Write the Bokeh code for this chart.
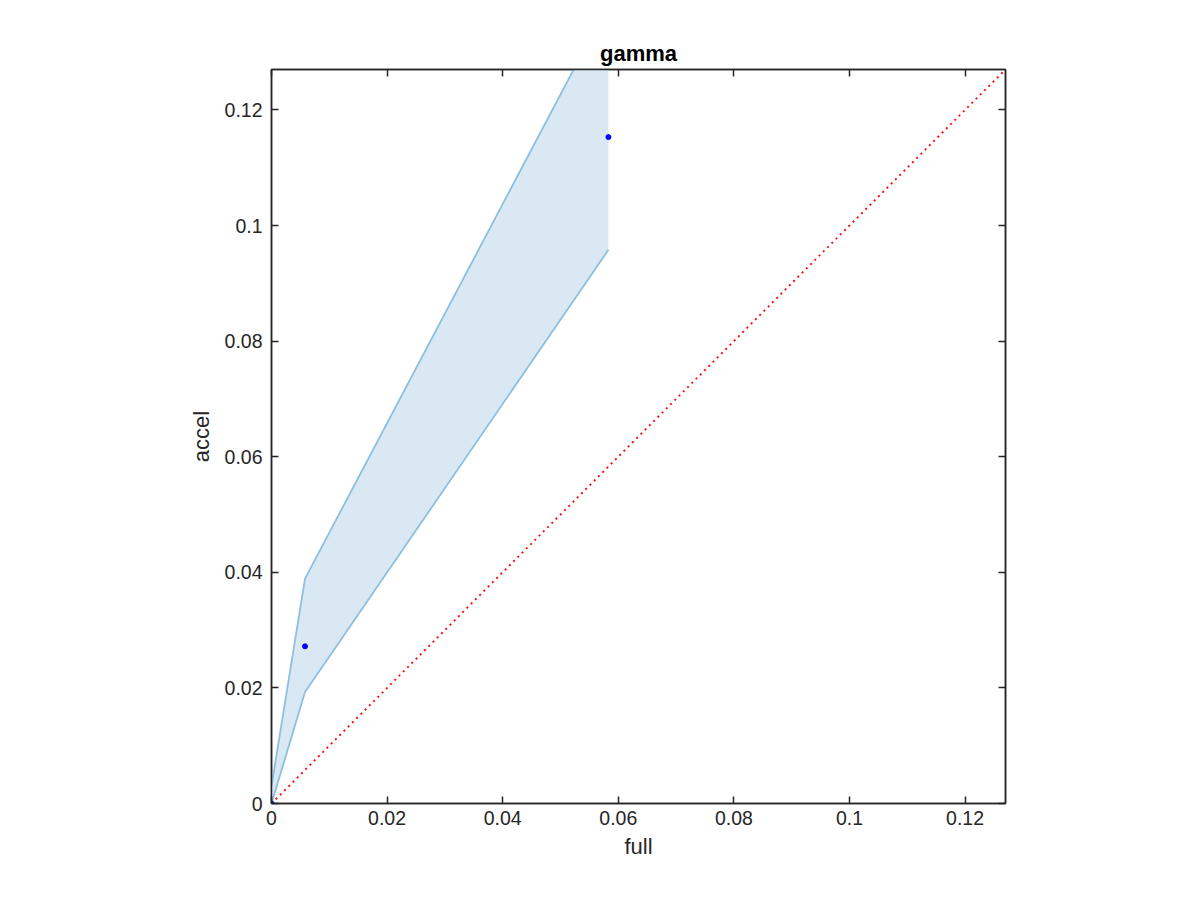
from bokeh.plotting import figure
from bokeh.models import Range1d, LinearAxis, FixedTicker
from bokeh.embed import file_html
from bokeh.resources import INLINE

# data
full = [0.0, 0.0058, 0.0583]
accel = [0.0, 0.0272, 0.1153]
lower = [0.0, 0.0193, 0.0958]
upper = [0.003, 0.0389, 0.1384]
diag = [0.0, 0.127]
ticks = [0, 0.02, 0.04, 0.06, 0.08, 0.1, 0.12]
tick_labels = ["0", "0.02", "0.04", "0.06", "0.08", "0.1", "0.12"]

FONT = "Liberation Sans"
AX = "#262626"

p = figure(width=1184, height=884, output_backend="svg", toolbar_location=None,
           x_range=Range1d(0, 0.127), y_range=Range1d(0, 0.127),
           frame_width=734, frame_height=734,
           min_border_left=271, min_border_right=179, min_border_top=69, min_border_bottom=81,
           title="gamma")
p.title.align = "center"
p.title.text_font = FONT
p.title.text_font_size = "22px"
p.title.text_font_style = "bold"
p.title.text_color = "#000000"
p.title.offset = 0
p.title.standoff = 7
p.grid.visible = False
p.outline_line_color = AX
p.outline_line_width = 1.5
p.background_fill_color = "white"
p.border_fill_color = "white"

# band
p.patch(full + full[::-1], lower + upper[::-1], fill_color="#dae8f3", fill_alpha=1.0, line_color=None)
p.line(full, upper, line_color="#8dbfe0", line_width=1.8)
p.line(full, lower, line_color="#8dbfe0", line_width=1.8)
# diagonal
p.line(diag, diag, line_color="#ff0000", line_width=1.8, line_dash="2 4")
# points
p.scatter(full, accel, size=5, color="blue", line_color="blue")

overrides = {t: l for t, l in zip(ticks, tick_labels)}
for ax in [p.xaxis[0], p.yaxis[0]]:
    ax.ticker = FixedTicker(ticks=ticks)
    ax.major_label_overrides = overrides
    ax.major_tick_in = 7
    ax.major_tick_out = 0
    ax.minor_tick_line_color = None
    ax.axis_line_color = AX
    ax.axis_line_width = 1.5
    ax.major_tick_line_color = AX
    ax.major_tick_line_width = 1.5
    ax.major_label_text_font = FONT
    ax.major_label_text_font_size = "19.5px"
    ax.major_label_text_color = AX
    ax.axis_label_text_font = FONT
    ax.axis_label_text_font_size = "22px"
    ax.axis_label_text_font_style = "normal"
    ax.axis_label_text_color = AX

p.xaxis[0].axis_label = "full"
p.yaxis[0].axis_label = "accel"
p.xaxis[0].major_label_standoff = 7
p.yaxis[0].major_label_standoff = 9
p.xaxis[0].axis_label_standoff = 6
p.yaxis[0].axis_label_standoff = 8

for loc in ["above", "right"]:
    a = LinearAxis(ticker=FixedTicker(ticks=ticks), major_tick_in=7, major_tick_out=0,
                   minor_tick_line_color=None, axis_line_color=AX, axis_line_width=1.5,
                   major_tick_line_color=AX, major_tick_line_width=1.5,
                   major_label_text_font_size="0px", major_label_text_color=None)
    p.add_layout(a, loc)

open("out.html", "w").write(file_html(p, INLINE))
